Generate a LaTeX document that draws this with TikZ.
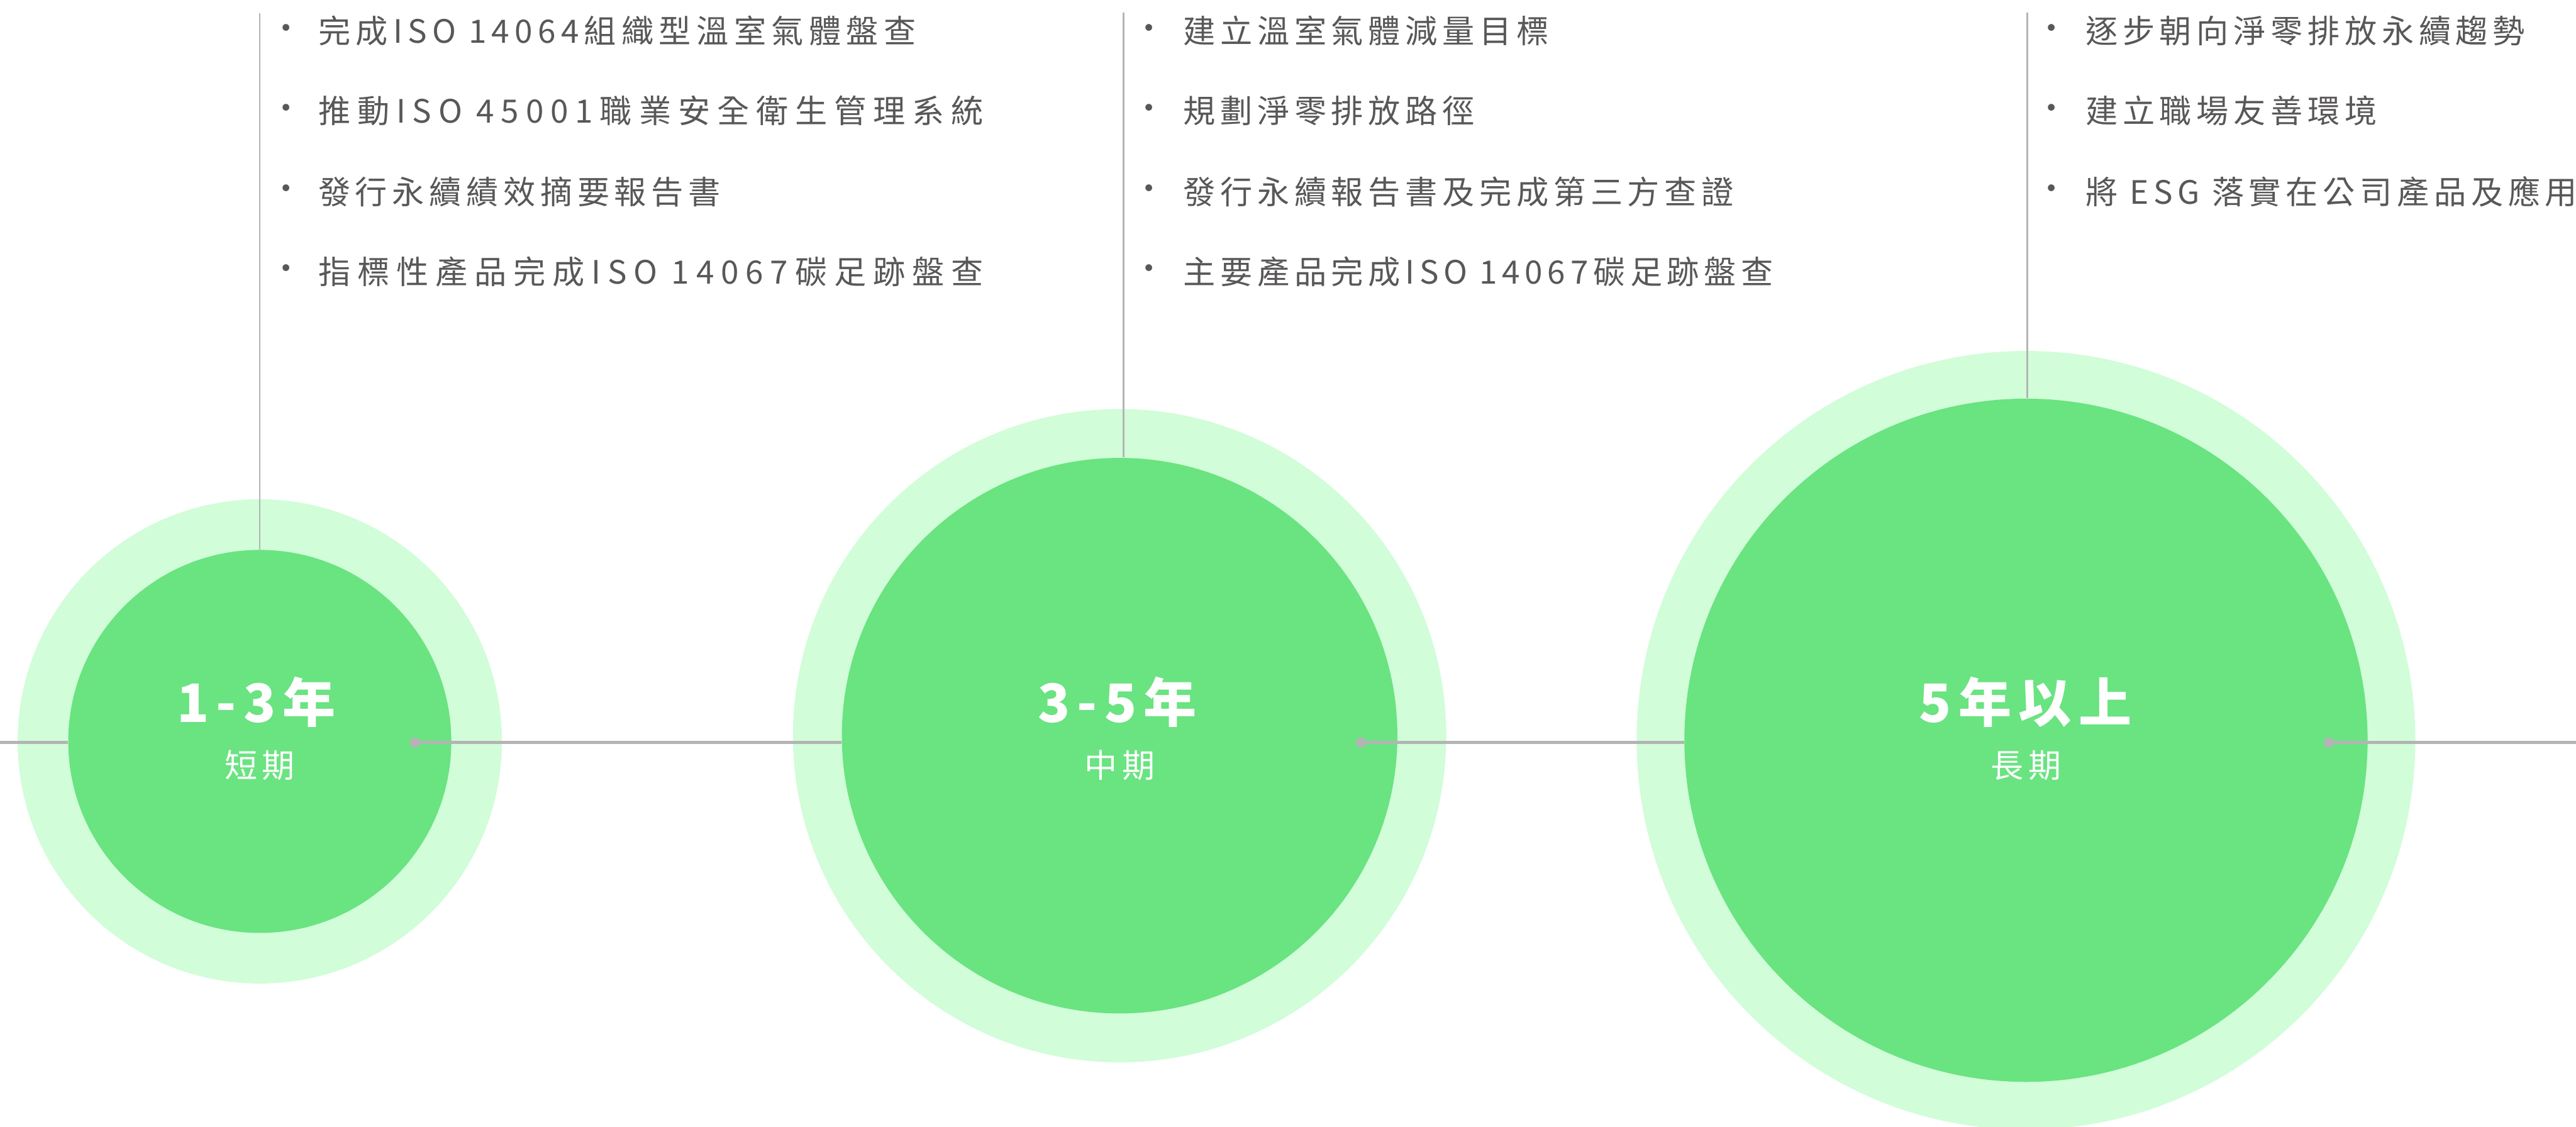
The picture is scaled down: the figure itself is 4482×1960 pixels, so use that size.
\documentclass[tikz,border=0pt]{standalone}
\usepackage{fontspec}
\newfontfamily\cjk[LetterSpace=15]{Noto Sans CJK TC}
\newfontfamily\cjka[LetterSpace=16.3]{Noto Sans CJK TC}
\newfontfamily\cjkw[LetterSpace=21.2]{Noto Sans CJK TC}
\newfontfamily\cjkbig[LetterSpace=13.3]{Noto Sans CJK TC}
\definecolor{ringlight}{HTML}{D1FDD9}
\definecolor{ringgreen}{HTML}{6AE381}
\definecolor{linegray}{HTML}{B4B4B4}
\definecolor{txtgray}{HTML}{595757}
\begin{document}
\begin{tikzpicture}[x=0.01cm,y=-0.01cm,
 outerc/.style={circle, fill=ringlight, inner sep=0, minimum size=#1},
 innerc/.style={circle, fill=ringgreen, inner sep=0, minimum size=#1},
 item/.style={anchor=west, inner sep=0, text=txtgray, font=\cjk\fontsize{15.93pt}{18pt}\selectfont},
 bul/.style={inner sep=0, text=txtgray, font=\cjk\fontsize{15.93pt}{18pt}\selectfont},
 big/.style={inner sep=0, text=white, font=\cjkbig\bfseries\fontsize{26.2pt}{30pt}\selectfont},
 sub/.style={inner sep=0, text=white, font=\cjk\fontsize{16.2pt}{18pt}\selectfont},
 hline/.style={draw=linegray, line width=1.42pt},
 vline/.style={draw=linegray, line width=0.85pt},
 dotn/.style={circle, fill=linegray, inner sep=0, minimum size=0.18cm}]
\useasboundingbox (0,0) rectangle (4482,1960);
% outer rings
\node[outerc=8.42cm] (o1) at (452,1290) {};
\node[outerc=11.36cm] (o2) at (1948,1280) {};
\node[outerc=13.54cm] (o3) at (3525,1288) {};
% inner circles
\node[innerc=6.66cm] (c1) at (452,1290) {};
\node[innerc=9.66cm] (c2) at (1948,1280) {};
\node[innerc=11.88cm] (c3) at (3525,1288) {};
% horizontal connectors
\coordinate (L) at (0,1292);
\coordinate (R) at (4482,1292);
\node[dotn] (d1) at (722,1292) {};
\node[dotn] (d2) at (2368,1292) {};
\node[dotn] (d3) at (4052,1292) {};
\draw[hline] (L) -- (L -| c1.west);
\draw[hline] (d1.center) -- (d1 -| c2.west);
\draw[hline] (d2.center) -- (d2 -| c3.west);
\draw[hline] (d3.center) -- (R);
% vertical connectors
\coordinate (t1) at (452,23);
\coordinate (t2) at (1955,22);
\coordinate (t3) at (3527,22);
\draw[vline] (t1) -- (t1 |- c1.north);
\draw[vline] (t2) -- (t2 |- c2.north);
\draw[vline] (t3) -- (t3 |- c3.north);
% circle labels
\node[big] (b1) at (446,1222) {1-3年};
\node[sub] (s1) at (452,1332) {短期};
\node[big] (b2) at (1944,1222) {3-5年};
\node[sub] (s2) at (1948,1332) {中期};
\node[big] (b3) at (3524,1222) {5年以上};
\node[sub] (s3) at (3525,1332) {長期};
% column 1
\node[bul] (p11) at (498,56) {•};
\node[bul] (p12) at (498,195) {•};
\node[bul] (p13) at (498,335) {•};
\node[bul] (p14) at (498,474) {•};
\node[item, font=\cjka\fontsize{15.93pt}{18pt}\selectfont] (i11) at (553,54) {完成ISO 14064組織型溫室氣體盤查};
\node[item, font=\cjkw\fontsize{15.93pt}{18pt}\selectfont] (i12) at (553,193) {推動ISO 45001職業安全衛生管理系統};
\node[item] (i13) at (553,334) {發行永續績效摘要報告書};
\node[item, font=\cjkw\fontsize{15.93pt}{18pt}\selectfont] (i14) at (553,473) {指標性產品完成ISO 14067碳足跡盤查};
% column 2
\node[bul] (p21) at (1999,56) {•};
\node[bul] (p22) at (1999,195) {•};
\node[bul] (p23) at (1999,335) {•};
\node[bul] (p24) at (1999,474) {•};
\node[item] (i21) at (2058,54) {建立溫室氣體減量目標};
\node[item] (i22) at (2058,193) {規劃淨零排放路徑};
\node[item] (i23) at (2058,334) {發行永續報告書及完成第三方查證};
\node[item] (i24) at (2058,473) {主要產品完成ISO 14067碳足跡盤查};
% column 3
\node[bul] (p31) at (3570,56) {•};
\node[bul] (p32) at (3570,195) {•};
\node[bul] (p33) at (3570,335) {•};
\node[item] (i31) at (3628,54) {逐步朝向淨零排放永續趨勢};
\node[item] (i32) at (3628,193) {建立職場友善環境};
\node[item] (i33) at (3628,334) {將 ESG 落實在公司產品及應用};
\end{tikzpicture}
\end{document}
